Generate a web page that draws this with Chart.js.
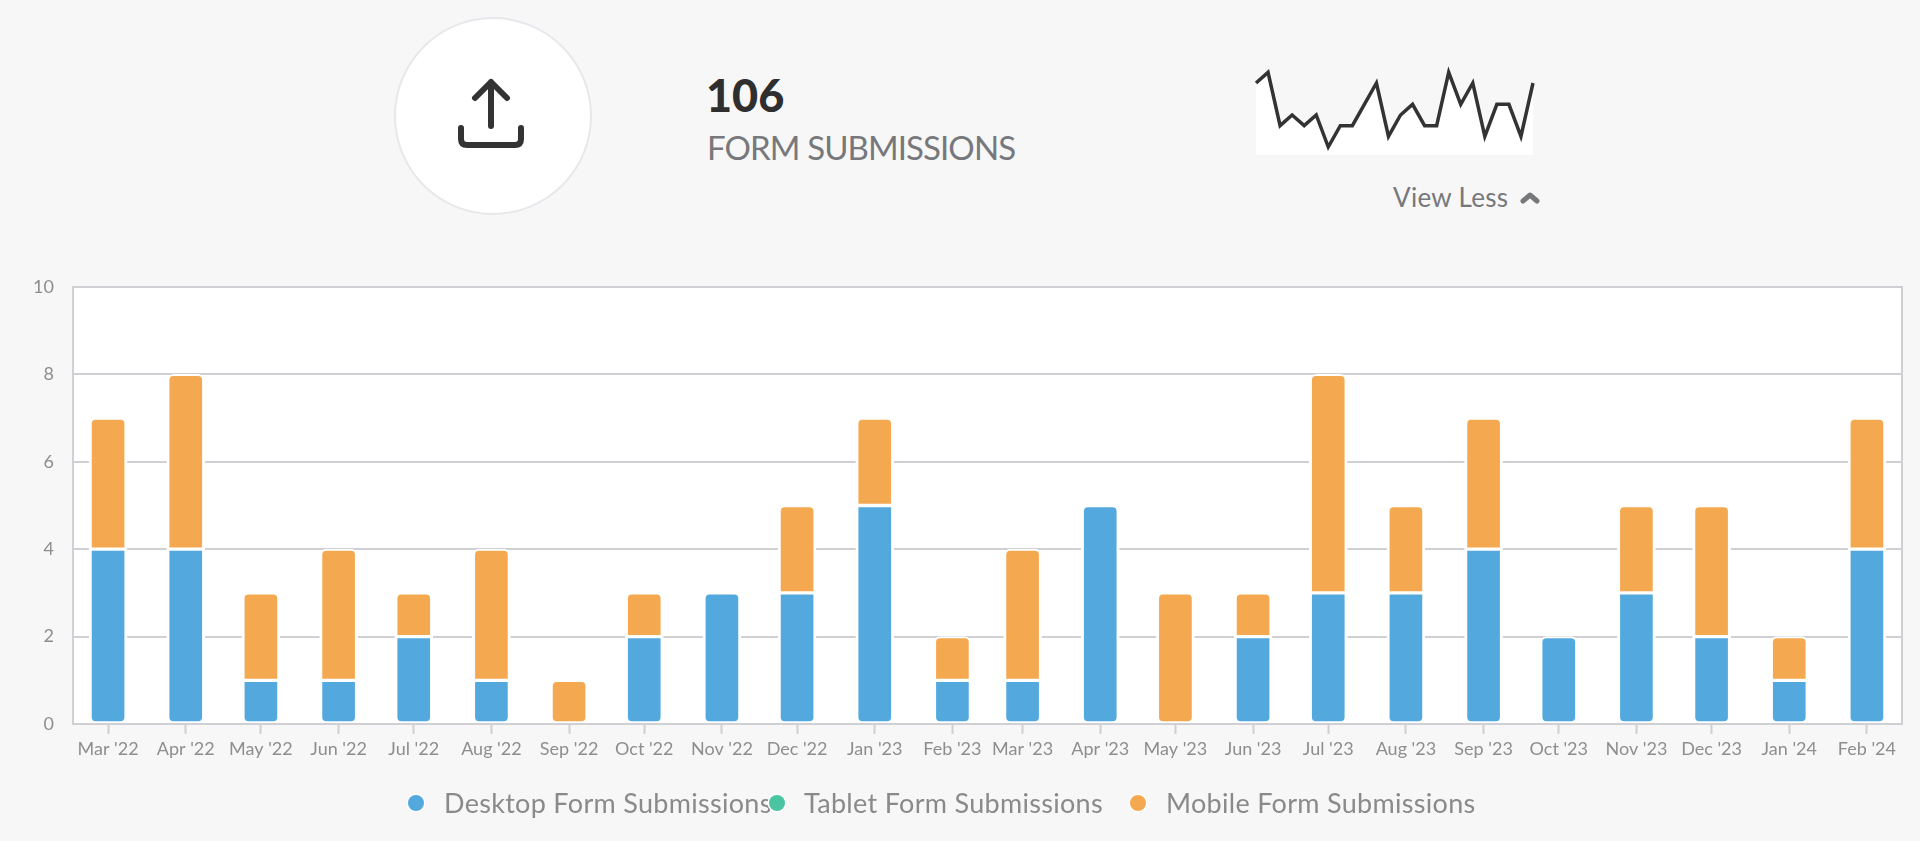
<!DOCTYPE html>
<html>
<head>
<meta charset="utf-8">
<title>Form Submissions</title>
<script src="https://cdn.jsdelivr.net/npm/chart.js@4"></script>
<style>
    html, body { margin: 0; padding: 0; background: #f7f7f7; overflow: hidden; }
    body { width: 1920px; height: 841px; position: relative; font-family: Lato, sans-serif; }
    .abs { position: absolute; white-space: nowrap; line-height: 1; }
    #circle { left: 394px; top: 17px; width: 194px; height: 194px; background: #fff; border: 2px solid #e8e8ec; border-radius: 50%; }
    #icon { left: 450px; top: 72px; }
    #total { left: 706px; top: 73px; font-size: 45px; font-weight: 900; color: #2f2f2f; }
    #title { left: 707px; top: 131px; font-size: 33px; letter-spacing: -0.9px; color: #77787c; }
    #toggle { left: 1393px; top: 184px; font-size: 26px; letter-spacing: 0.3px; color: #77787c; }
    #chevron { left: 1518px; top: 188px; }
    #sparkChart { position: absolute; left: 1250px; top: 60px; }
    #mainChart { position: absolute; left: 0; top: 270px; }
    .legend-dot { width: 16px; height: 16px; border-radius: 50%; top: 795px; box-shadow: 0 0 0 1.5px #fff; }
    .legend-text { top: 789px; font-size: 27px; letter-spacing: 0.3px; color: #8a8a8a; }
</style>
</head>
<body>
<div class="abs" id="circle"></div>
<svg class="abs" id="icon" width="84" height="84" viewBox="0 0 84 84" fill="none" stroke="#333" stroke-width="6" stroke-linecap="round" stroke-linejoin="round">
    <path d="M41 54V10M25 26L41 10L57 26"/>
    <path d="M11 56V67Q11 73 17 73H65Q71 73 71 67V56"/>
</svg>
<div class="abs" id="total">106</div>
<div class="abs" id="title">FORM SUBMISSIONS</div>
<canvas id="sparkChart" width="289" height="95"></canvas>
<div class="abs" id="toggle">View Less</div>
<svg class="abs" id="chevron" width="24" height="20" viewBox="0 0 24 20" fill="none" stroke="#77787c" stroke-width="5" stroke-linecap="round" stroke-linejoin="round">
    <path d="M5 13L12 7L19 13"/>
</svg>
<canvas id="mainChart" width="1920" height="571"></canvas>
<div id="legend"></div>

<script>
const categories = ["Mar '22", "Apr '22", "May '22", "Jun '22", "Jul '22", "Aug '22", "Sep '22", "Oct '22", "Nov '22", "Dec '22", "Jan '23", "Feb '23", "Mar '23", "Apr '23", "May '23", "Jun '23", "Jul '23", "Aug '23", "Sep '23", "Oct '23", "Nov '23", "Dec '23", "Jan '24", "Feb '24"];
// the x axis is a date axis, so months sit by their real length (days since 1 Mar 2022)
const monthDays = [0, 31, 61, 92, 122, 153, 184, 214, 245, 275, 306, 337, 365, 396, 426, 457, 487, 518, 549, 579, 610, 640, 671, 702];
const desktopValues = [4, 4, 1, 1, 2, 1, 0, 2, 3, 3, 5, 1, 1, 5, 0, 2, 3, 3, 4, 2, 3, 2, 1, 4];
const tabletValues = [0, 0, 0, 0, 0, 0, 0, 0, 0, 0, 0, 0, 0, 0, 0, 0, 0, 0, 0, 0, 0, 0, 0, 0];
const mobileValues = [3, 4, 2, 3, 1, 3, 1, 1, 0, 2, 2, 1, 3, 0, 3, 1, 5, 2, 3, 0, 2, 3, 1, 3];
const sparkValues = [7, 8, 3, 4, 3, 4, 1, 3, 3, 5, 7, 2, 4, 5, 3, 3, 8, 5, 7, 2, 5, 5, 2, 7];
const yTicks = [0, 2, 4, 6, 8, 10];

const gridColor = "#cfcfd4";
const labelColor = "#8e8e8e";
const fontName = "Lato, sans-serif";

// sparkline
new Chart(document.getElementById("sparkChart"), {
    type: "line",
    data: {
        labels: categories,
        datasets: [{
            data: sparkValues,
            borderColor: "#333",
            borderWidth: 3.5,
            backgroundColor: "#fff",
            fill: "start",
            pointRadius: 0,
            tension: 0,
            clip: false,
        }],
    },
    options: {
        responsive: false,
        animation: false,
        layout: { padding: { left: 6, right: 6, top: 7, bottom: 0 } },
        plugins: { legend: { display: false }, tooltip: { enabled: false } },
        scales: {
            x: { display: false },
            y: { display: false, min: 0.25, max: 8.5 },
        },
    },
});

// white plot background and the outline round it
const plotBox = {
    id: "plotBox",
    beforeDraw(chart) {
        const a = chart.chartArea;
        chart.ctx.fillStyle = "#fff";
        chart.ctx.fillRect(a.left, a.top, a.width, a.height);
    },
    afterDatasetsDraw(chart) {
        const a = chart.chartArea;
        chart.ctx.strokeStyle = gridColor;
        chart.ctx.lineWidth = 2;
        chart.ctx.strokeRect(a.left, a.top, a.width, a.height);
    },
};

const barStyle = {
    stack: "forms",
    barThickness: 38,
    borderColor: "#fff",
    borderWidth: { top: 2, bottom: 2, left: 3, right: 3 },
    borderSkipped: false,
};

const datasets = [
    {
        ...barStyle,
        label: "Desktop Form Submissions",
        data: desktopValues,
        backgroundColor: "#53a9de",
        borderRadius: (c) => {
            const top = mobileValues[c.dataIndex] === 0 ? 7 : 0;
            return { topLeft: top, topRight: top, bottomLeft: 7, bottomRight: 7 };
        },
    },
    {
        ...barStyle,
        label: "Tablet Form Submissions",
        data: tabletValues,
        backgroundColor: "#4bc5a1",
    },
    {
        ...barStyle,
        label: "Mobile Form Submissions",
        data: mobileValues,
        backgroundColor: "#f4a950",
        borderRadius: (c) => {
            const bottom = desktopValues[c.dataIndex] === 0 ? 7 : 0;
            return { topLeft: 7, topRight: 7, bottomLeft: bottom, bottomRight: bottom };
        },
    },
];

new Chart(document.getElementById("mainChart"), {
    type: "bar",
    data: { datasets: datasets.map((d) => ({ ...d, data: d.data.map((v, i) => ({ x: monthDays[i], y: v })) })) },
    plugins: [plotBox],
    options: {
        responsive: false,
        animation: false,
        layout: { padding: { left: 0, right: 18, top: 17, bottom: 0 } },
        plugins: { legend: { display: false }, tooltip: { enabled: false } },
        scales: {
            x: {
                type: "linear",
                stacked: true,
                offset: false,
                min: -14,
                max: 716,
                afterBuildTicks: (axis) => {
                    axis.ticks = monthDays.map((d) => ({ value: d }));
                },
                afterFit: (axis) => {
                    axis.height = 117;
                    axis.paddingLeft = 0;
                    axis.paddingRight = 0;
                },
                grid: { offset: false, drawOnChartArea: false, tickLength: 10, tickWidth: 2, tickColor: gridColor },
                border: { display: false },
                ticks: {
                    autoSkip: false,
                    maxRotation: 0,
                    padding: 4,
                    color: labelColor,
                    font: { family: fontName, size: 18 },
                    callback: (v) => categories[monthDays.indexOf(v)],
                },
            },
            y: {
                stacked: true,
                min: 0,
                max: 10,
                afterBuildTicks: (axis) => {
                    axis.ticks = yTicks.map((v) => ({ value: v }));
                },
                afterFit: (axis) => {
                    axis.width = 73;
                    axis.paddingTop = 0;
                    axis.paddingBottom = 0;
                },
                grid: { color: gridColor, lineWidth: 2, drawTicks: false },
                border: { display: false },
                ticks: {
                    padding: 19,
                    color: labelColor,
                    font: { family: fontName, size: 18 },
                },
            },
        },
    },
});

// legend, the gaps in the original are uneven so it is placed by hand
const legendSpots = [[408, 444], [769, 804], [1130, 1166]];
const legend = document.getElementById("legend");
datasets.forEach((d, i) => {
    legend.innerHTML += `
        <div class="abs legend-dot" style="left:${legendSpots[i][0]}px;background:${d.backgroundColor}"></div>
        <div class="abs legend-text" style="left:${legendSpots[i][1]}px">${d.label}</div>
    `;
});
</script>
</body>
</html>
